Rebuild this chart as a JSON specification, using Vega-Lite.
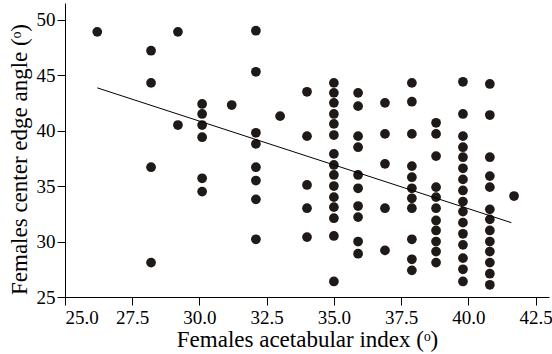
{
  "$schema": "https://vega.github.io/schema/vega-lite/v6.json",
  "width": 484,
  "height": 294,
  "autosize": "none",
  "padding": {"left": 65, "top": 3, "right": 3, "bottom": 57},
  "background": "white",
  "config": {
    "view": {"stroke": null},
    "font": "Liberation Serif",
    "axis": {
      "grid": false,
      "domainColor": "black",
      "tickColor": "black",
      "labelColor": "black",
      "titleColor": "black",
      "labelFont": "Liberation Serif",
      "titleFont": "Liberation Serif",
      "labelFontSize": 19,
      "titleFontSize": 23,
      "titleFontWeight": "normal",
      "tickSize": 8,
      "domainWidth": 1,
      "tickWidth": 1
    }
  },
  "datasets": {
    "points": [
      {"x": 26.2, "y": 48.9},
      {"x": 28.2, "y": 47.2}, {"x": 28.2, "y": 44.3}, {"x": 28.2, "y": 36.7}, {"x": 28.2, "y": 28.1},
      {"x": 29.2, "y": 48.9}, {"x": 29.2, "y": 40.5},
      {"x": 30.1, "y": 42.4}, {"x": 30.1, "y": 41.5}, {"x": 30.1, "y": 40.5}, {"x": 30.1, "y": 39.4}, {"x": 30.1, "y": 35.7}, {"x": 30.1, "y": 34.5},
      {"x": 31.2, "y": 42.3},
      {"x": 32.1, "y": 49.0}, {"x": 32.1, "y": 45.3}, {"x": 32.1, "y": 39.8}, {"x": 32.1, "y": 38.8}, {"x": 32.1, "y": 36.7}, {"x": 32.1, "y": 35.5}, {"x": 32.1, "y": 33.8}, {"x": 32.1, "y": 30.2},
      {"x": 33.0, "y": 41.3},
      {"x": 34.0, "y": 43.5}, {"x": 34.0, "y": 39.5}, {"x": 34.0, "y": 35.1}, {"x": 34.0, "y": 33.0}, {"x": 34.0, "y": 30.4},
      {"x": 35.0, "y": 44.3}, {"x": 35.0, "y": 43.4}, {"x": 35.0, "y": 42.5}, {"x": 35.0, "y": 41.5}, {"x": 35.0, "y": 40.6}, {"x": 35.0, "y": 39.6}, {"x": 35.0, "y": 37.9}, {"x": 35.0, "y": 36.9}, {"x": 35.0, "y": 36.0}, {"x": 35.0, "y": 35.0}, {"x": 35.0, "y": 34.0}, {"x": 35.0, "y": 33.1}, {"x": 35.0, "y": 32.1}, {"x": 35.0, "y": 30.5}, {"x": 35.0, "y": 26.4},
      {"x": 35.9, "y": 43.4}, {"x": 35.9, "y": 42.2}, {"x": 35.9, "y": 39.5}, {"x": 35.9, "y": 38.5}, {"x": 35.9, "y": 36.0}, {"x": 35.9, "y": 34.8}, {"x": 35.9, "y": 33.2}, {"x": 35.9, "y": 32.2}, {"x": 35.9, "y": 30.0}, {"x": 35.9, "y": 28.9},
      {"x": 36.9, "y": 42.5}, {"x": 36.9, "y": 39.7}, {"x": 36.9, "y": 37.0}, {"x": 36.9, "y": 33.0}, {"x": 36.9, "y": 29.2},
      {"x": 37.9, "y": 44.3}, {"x": 37.9, "y": 42.6}, {"x": 37.9, "y": 39.7}, {"x": 37.9, "y": 36.8}, {"x": 37.9, "y": 35.8}, {"x": 37.9, "y": 34.8}, {"x": 37.9, "y": 33.9}, {"x": 37.9, "y": 33.0}, {"x": 37.9, "y": 30.2}, {"x": 37.9, "y": 28.4}, {"x": 37.9, "y": 27.4},
      {"x": 38.8, "y": 40.7}, {"x": 38.8, "y": 39.7}, {"x": 38.8, "y": 37.7}, {"x": 38.8, "y": 34.9}, {"x": 38.8, "y": 34.0}, {"x": 38.8, "y": 33.0}, {"x": 38.8, "y": 31.9}, {"x": 38.8, "y": 31.0}, {"x": 38.8, "y": 30.0}, {"x": 38.8, "y": 29.1}, {"x": 38.8, "y": 28.1},
      {"x": 39.8, "y": 44.4}, {"x": 39.8, "y": 41.5}, {"x": 39.8, "y": 39.5}, {"x": 39.8, "y": 38.5}, {"x": 39.8, "y": 37.6}, {"x": 39.8, "y": 36.6}, {"x": 39.8, "y": 35.6}, {"x": 39.8, "y": 34.6}, {"x": 39.8, "y": 33.6}, {"x": 39.8, "y": 32.7}, {"x": 39.8, "y": 31.7}, {"x": 39.8, "y": 30.7}, {"x": 39.8, "y": 29.7}, {"x": 39.8, "y": 28.5}, {"x": 39.8, "y": 27.5}, {"x": 39.8, "y": 26.4},
      {"x": 40.8, "y": 44.2}, {"x": 40.8, "y": 41.4}, {"x": 40.8, "y": 37.6}, {"x": 40.8, "y": 35.9}, {"x": 40.8, "y": 34.9}, {"x": 40.8, "y": 32.9}, {"x": 40.8, "y": 32.0}, {"x": 40.8, "y": 31.0}, {"x": 40.8, "y": 30.0}, {"x": 40.8, "y": 29.1}, {"x": 40.8, "y": 28.1}, {"x": 40.8, "y": 27.1}, {"x": 40.8, "y": 26.1},
      {"x": 41.7, "y": 34.1}
    ],
    "fit": [
      {"x": 26.2, "y": 43.85},
      {"x": 41.6, "y": 31.7}
    ]
  },
  "layer": [
    {
      "data": {"name": "points"},
      "mark": {"type": "circle", "size": 95, "color": "#1f1a17", "opacity": 1},
      "encoding": {
        "x": {
          "field": "x", "type": "quantitative",
          "scale": {"domain": [25, 43], "nice": false, "zero": false},
          "axis": {
            "values": [25, 27.5, 30, 32.5, 35, 37.5, 40, 42.5],
            "format": ".1f",
            "title": "Females acetabular index (ᵒ)",
            "labelPadding": 3,
            "titlePadding": 1
          }
        },
        "y": {
          "field": "y", "type": "quantitative",
          "scale": {"domain": [25, 51.5], "nice": false, "zero": false},
          "axis": {
            "values": [25, 30, 35, 40, 45, 50],
            "title": "Females center edge angle (ᵒ)",
            "labelPadding": 2,
            "titlePadding": 5,
            "titleY": 156
          }
        }
      }
    },
    {
      "data": {"name": "fit"},
      "mark": {"type": "line", "color": "black", "strokeWidth": 1},
      "encoding": {
        "x": {"field": "x", "type": "quantitative"},
        "y": {"field": "y", "type": "quantitative"}
      }
    }
  ]
}
